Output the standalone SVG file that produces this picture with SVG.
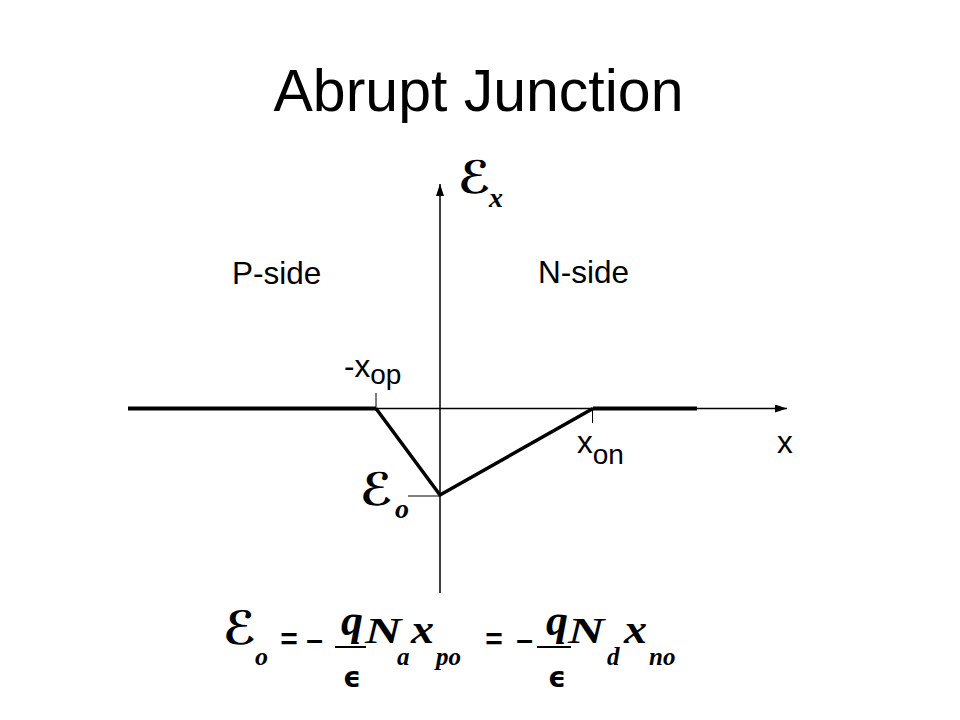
<svg xmlns="http://www.w3.org/2000/svg" width="960" height="720" viewBox="0 0 960 720">
<style>
.lbl{font-family:"Liberation Sans",Arial,sans-serif;font-size:31.5px;fill:#000}
.scr{font-family:"DejaVu Serif","DejaVu Sans",serif;font-style:italic;font-weight:bold;fill:#000}
.mi{font-family:"Liberation Serif","Times New Roman",serif;font-style:italic;font-weight:bold;fill:#000}
.op{font-family:"Liberation Sans",Arial,sans-serif;font-weight:bold;font-size:30px;fill:#000;text-anchor:middle}
.minus{font-family:"Liberation Sans",Arial,sans-serif;font-weight:bold;font-size:30px;fill:#000;text-anchor:middle}
.eps{font-family:"DejaVu Sans",sans-serif;font-weight:bold;font-size:28px;fill:#000;text-anchor:middle}
.thin{stroke:#000;stroke-width:1.5;fill:none}
.thick{stroke:#000;stroke-width:4;fill:none}
.tick{stroke:#000;stroke-width:1;fill:none}
</style>
<defs>
<marker id="arr" markerWidth="12" markerHeight="8" refX="12" refY="4" orient="auto" markerUnits="userSpaceOnUse">
<path d="M0,0 L12,4 L0,8 Z" fill="#000"/>
</marker>
</defs>
<rect width="960" height="720" fill="#fff"/>
<text x="478.5" y="111" font-family="Liberation Sans, Arial, sans-serif" font-size="59" text-anchor="middle">Abrupt Junction</text>
<g id="connectors">
<line class="thin" x1="440" y1="593" x2="440" y2="184" marker-end="url(#arr)"/>
<line class="thin" x1="128" y1="408.5" x2="787" y2="408.5" marker-end="url(#arr)"/>
<line class="thick" x1="128" y1="408.5" x2="376" y2="408.5"/>
<line class="thick" x1="593" y1="408.5" x2="697" y2="408.5"/>
<polyline class="thick" points="376,408.5 440,495 593,408.5" stroke-linejoin="miter" style="stroke-width:3.5"/>
<line class="tick" x1="376" y1="393" x2="376" y2="408"/>
<line class="tick" x1="592.5" y1="408" x2="592.5" y2="423"/>
<line class="tick" x1="408" y1="496" x2="440" y2="496"/>
</g>
<g id="axis-label-E">
<text class="scr" x="458" y="193" font-size="45">ℰ</text>
<text class="mi" x="489" y="207" font-size="28">x</text>
</g>
<g id="p-side"><text class="lbl" x="232" y="284">P-side</text></g>
<g id="n-side"><text class="lbl" x="538" y="283">N-side</text></g>
<g id="label-xop"><text class="lbl" x="344" y="377">-x<tspan font-size="28" dy="7">op</tspan></text></g>
<g id="label-xon"><text class="lbl" x="577" y="453">x<tspan font-size="28" dy="11">on</tspan></text></g>
<g id="label-x"><text class="lbl" x="777" y="453">x</text></g>
<g id="label-Eo">
<text class="scr" x="360" y="505" font-size="45">ℰ</text>
<text class="mi" x="395" y="518" font-size="28">o</text>
</g>
<g id="equation">
<text class="scr" x="223" y="644" font-size="46">ℰ</text>
<text class="mi" x="255" y="665" font-size="26">o</text>
<text class="op" x="289" y="649">=</text>
<text class="minus" x="314.5" y="650">–</text>
<text class="mi" x="352" y="635" font-size="44" text-anchor="middle">q</text>
<line x1="335" y1="647" x2="366" y2="647" stroke="#000" stroke-width="2"/>
<text class="eps" x="352" y="687">ϵ</text>
<text class="mi" font-size="36" transform="translate(365,643) scale(1.4,1)">N</text>
<text class="mi" x="397" y="665" font-size="25">a</text>
<text class="mi" font-size="40" transform="translate(411,643) scale(1.15,1)">x</text>
<text class="mi" x="436" y="665" font-size="25">po</text>
<text class="op" x="494" y="649">=</text>
<text class="minus" x="524.5" y="650">–</text>
<text class="mi" x="557" y="635" font-size="44" text-anchor="middle">q</text>
<line x1="537" y1="647" x2="571" y2="647" stroke="#000" stroke-width="2"/>
<text class="eps" x="557" y="687">ϵ</text>
<text class="mi" font-size="36" transform="translate(568,643) scale(1.4,1)">N</text>
<text class="mi" x="607" y="665" font-size="25">d</text>
<text class="mi" font-size="40" transform="translate(624,643) scale(1.15,1)">x</text>
<text class="mi" x="649" y="665" font-size="25">no</text>
</g>
</svg>
